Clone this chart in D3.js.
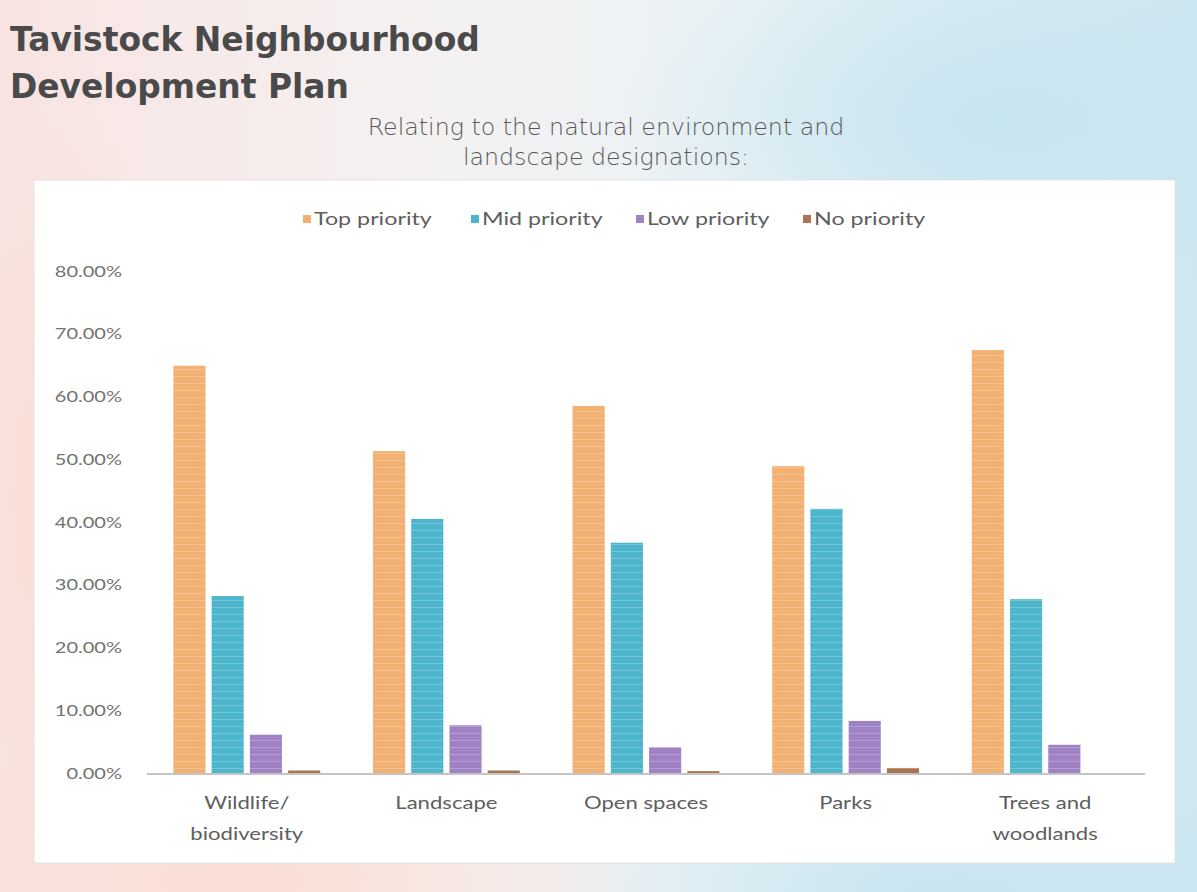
<!DOCTYPE html>
<html>
<head>
<meta charset="utf-8">
<script src="https://cdn.jsdelivr.net/npm/d3@7"></script>
<style>
  html, body { margin: 0; padding: 0; }
  body { width: 1197px; height: 892px; overflow: hidden; }
</style>
</head>
<body>
<div id="chart"></div>
<script>
// data
var categories = ["Wildlife/\nbiodiversity", "Landscape", "Open spaces", "Parks", "Trees and\nwoodlands"];
var series = ["Top priority", "Mid priority", "Low priority", "No priority"];
var topPriority = [0.649, 0.513, 0.585, 0.489, 0.674];
var midPriority = [0.282, 0.405, 0.367, 0.421, 0.277];
var lowPriority = [0.061, 0.076, 0.041, 0.083, 0.045];
var noPriority = [0.004, 0.004, 0.003, 0.008, 0.0];
var yTicks = [0, 0.1, 0.2, 0.3, 0.4, 0.5, 0.6, 0.7, 0.8];
var colors = ["#f2b072", "#4db6cc", "#9e82c4", "#a97550"];

var values = [topPriority, midPriority, lowPriority, noPriority];
var rows = categories.map((c, i) => ({
  cat: c,
  vals: series.map((s, j) => ({ key: s, idx: j, value: values[j][i] }))
}));

var w = 1197, h = 892;
var svg = d3.select("#chart").append("svg").attr("width", w).attr("height", h);
var defs = svg.append("defs");

// the labels in the picture are drawn a bit wide, stretch them
function stretch(sel, k) {
  sel.each(function () {
    var l = this.getComputedTextLength();
    d3.select(this).attr("textLength", l * k).attr("lengthAdjust", "spacingAndGlyphs");
  });
}

// watercolour-ish background
var bg = defs.append("linearGradient").attr("id", "bg").attr("x1", 0).attr("y1", 0).attr("x2", 1).attr("y2", 0);
bg.append("stop").attr("offset", "0%").attr("stop-color", "#f8e4e2");
bg.append("stop").attr("offset", "35%").attr("stop-color", "#f5f1f1");
bg.append("stop").attr("offset", "62%").attr("stop-color", "#e9f2f5");
bg.append("stop").attr("offset", "100%").attr("stop-color", "#cfe7f1");
svg.append("rect").attr("width", w).attr("height", h).attr("fill", "url(#bg)");

var rg1 = defs.append("radialGradient").attr("id", "rg1");
rg1.append("stop").attr("offset", "0%").attr("stop-color", "#fbdcd2").attr("stop-opacity", 0.9);
rg1.append("stop").attr("offset", "100%").attr("stop-color", "#fbdcd2").attr("stop-opacity", 0);
svg.append("ellipse").attr("cx", 250).attr("cy", 880).attr("rx", 420).attr("ry", 160).attr("fill", "url(#rg1)");
svg.append("ellipse").attr("cx", 60).attr("cy", 500).attr("rx", 120).attr("ry", 400).attr("fill", "url(#rg1)");

var rg2 = defs.append("radialGradient").attr("id", "rg2");
rg2.append("stop").attr("offset", "0%").attr("stop-color", "#c4e3f0").attr("stop-opacity", 0.9);
rg2.append("stop").attr("offset", "100%").attr("stop-color", "#c4e3f0").attr("stop-opacity", 0);
svg.append("ellipse").attr("cx", 1000).attr("cy", 120).attr("rx", 380).attr("ry", 200).attr("fill", "url(#rg2)");
svg.append("ellipse").attr("cx", 950).attr("cy", 890).attr("rx", 400).attr("ry", 120).attr("fill", "url(#rg2)");

// titles
var titleFont = "'DejaVu Sans', sans-serif";
var t1 = svg.append("text").attr("x", 10).attr("y", 51)
  .style("font-family", titleFont).style("font-weight", "bold").style("font-size", "30px")
  .attr("fill", "#4a4a4a").text("Tavistock Neighbourhood");
var t2 = svg.append("text").attr("x", 10).attr("y", 98)
  .style("font-family", titleFont).style("font-weight", "bold").style("font-size", "30px")
  .attr("fill", "#4a4a4a").text("Development Plan");
var fs = 30 * 470 / t1.node().getComputedTextLength();
t1.style("font-size", fs + "px");
t2.style("font-size", fs + "px");

var sub = ["Relating to the natural environment and", "landscape designations:"];
var st = svg.append("g").selectAll("text").data(sub).join("text")
  .attr("x", 606).attr("y", (d, i) => 135 + i * 30)
  .attr("text-anchor", "middle")
  .style("font-family", "'DejaVu Sans', sans-serif").style("font-weight", 200).style("font-size", "17px")
  .attr("fill", "#585858").text(d => d);
var sk = 477 / st.node().getComputedTextLength();
st.style("font-size", (17 * sk) + "px");

// white card
svg.append("rect").attr("x", 34).attr("y", 180).attr("width", 1141).attr("height", 683)
  .attr("fill", "#ffffff").attr("stroke", "#e4e4e4").attr("stroke-width", 1);

// scales
var x0 = d3.scaleBand().domain(categories).range([147, 1145]).padding(0);
var x1 = d3.scaleBand().domain(series).range([0, x0.bandwidth()]).paddingInner(0.16).paddingOuter(0.69);
var y = d3.scaleLinear().domain([0, 0.8]).range([773, 271]);

// stripe patterns to mimic the banded bars
colors.forEach((c, i) => {
  var p = defs.append("pattern").attr("id", "stripe" + i).attr("patternUnits", "userSpaceOnUse")
    .attr("width", 8).attr("height", 7);
  p.append("rect").attr("width", 8).attr("height", 7).attr("fill", c);
  p.append("rect").attr("y", 5).attr("width", 8).attr("height", 1).attr("fill", "#ffffff").attr("opacity", 0.22);
});

var fmt = d3.format(".2%");
var yAxis = svg.append("g").attr("transform", "translate(122,0)")
  .call(d3.axisLeft(y).tickValues(yTicks).tickFormat(fmt).tickSize(0).tickPadding(0));
yAxis.select(".domain").remove();
yAxis.selectAll("text")
  .style("font-family", "Lato, sans-serif").style("font-size", "16px").attr("fill", "#737373");
stretch(yAxis.selectAll("text"), 1.25);

var groups = svg.append("g").selectAll("g").data(rows).join("g")
  .attr("transform", d => "translate(" + x0(d.cat) + ",0)");
groups.selectAll("rect").data(d => d.vals).join("rect")
  .attr("x", d => x1(d.key))
  .attr("width", x1.bandwidth())
  .attr("y", d => y(d.value))
  .attr("height", d => y(0) - y(d.value))
  .attr("fill", d => "url(#stripe" + d.idx + ")");

// baseline
svg.append("line").attr("x1", 147).attr("x2", 1145).attr("y1", y(0) + 1).attr("y2", y(0) + 1)
  .attr("stroke", "#c4c4c4").attr("stroke-width", 2);

// category labels
var xl = svg.append("g").selectAll("text").data(categories).join("text")
  .attr("x", d => x0(d) + x0.bandwidth() / 2)
  .attr("y", 809)
  .attr("text-anchor", "middle")
  .style("font-family", "Lato, sans-serif").style("font-size", "17px").attr("fill", "#5e5e5e");
xl.selectAll("tspan").data(d => d.split("\n")).join("tspan")
  .attr("x", function () { return d3.select(this.parentNode).attr("x"); })
  .attr("dy", (d, i) => i === 0 ? 0 : 31)
  .text(d => d);
stretch(xl.selectAll("tspan"), 1.3);

// legend
var legX = [303, 471, 636, 803];
var leg = svg.append("g").selectAll("g").data(series).join("g")
  .attr("transform", (d, i) => "translate(" + legX[i] + ",219)");
leg.append("rect").attr("x", 0).attr("y", -4).attr("width", 8).attr("height", 8)
  .attr("fill", (d, i) => colors[i]);
var lt = leg.append("text").attr("x", 11).attr("y", 6)
  .style("font-family", "Lato, sans-serif").style("font-size", "17.5px").attr("fill", "#5e5e5e")
  .text(d => d);
stretch(lt, 1.33);
</script>
</body>
</html>
